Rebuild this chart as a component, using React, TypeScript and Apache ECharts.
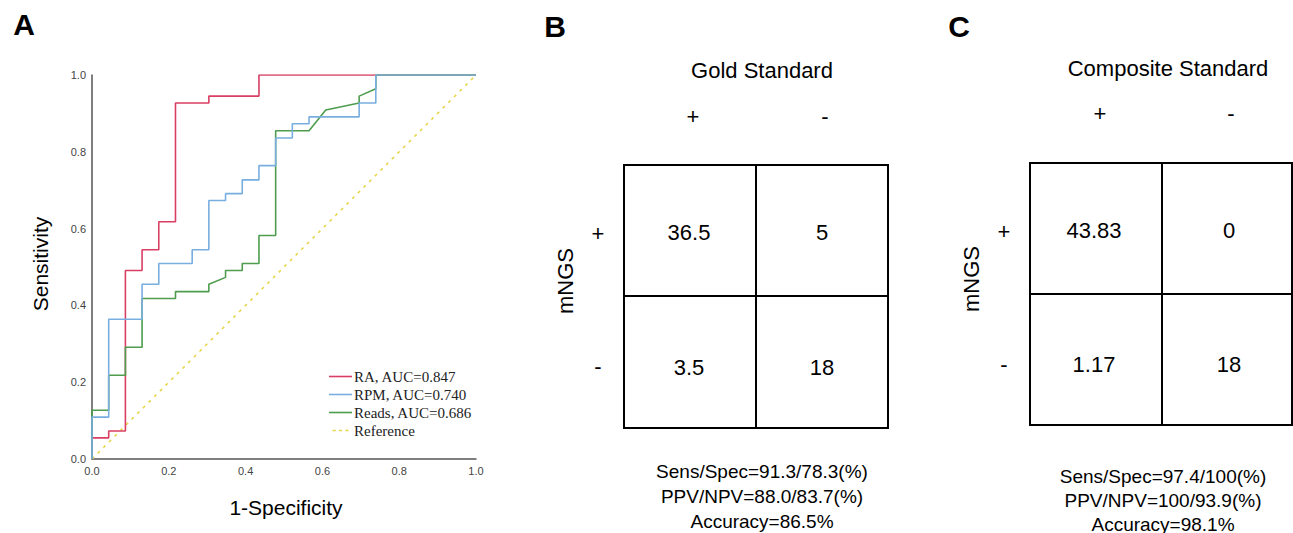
import React, { useEffect, useRef } from "react";
import * as echarts from "echarts";

// ROC curve vertices (1-Specificity, Sensitivity)
const raX = [0, 0, 0.0435, 0.0435, 0.087, 0.087, 0.1304, 0.1304, 0.1739, 0.1739, 0.2174, 0.2174, 0.3043, 0.3043, 0.4348, 0.4348, 1];
const raY = [0, 0.055, 0.055, 0.073, 0.073, 0.491, 0.491, 0.545, 0.545, 0.618, 0.618, 0.927, 0.927, 0.945, 0.945, 1, 1];

const rpmX = [0, 0, 0.0435, 0.0435, 0.1304, 0.1304, 0.1739, 0.1739, 0.2609, 0.2609, 0.3043, 0.3043, 0.3478, 0.3478, 0.3913, 0.3913, 0.4348, 0.4348, 0.4783, 0.4783, 0.5217, 0.5217, 0.5652, 0.5652, 0.6957, 0.6957, 0.7391, 0.7391, 1];
const rpmY = [0, 0.109, 0.109, 0.364, 0.364, 0.455, 0.455, 0.509, 0.509, 0.545, 0.545, 0.673, 0.673, 0.691, 0.691, 0.727, 0.727, 0.764, 0.764, 0.836, 0.836, 0.873, 0.873, 0.891, 0.891, 0.927, 0.927, 1, 1];

const readsX = [0, 0, 0.0435, 0.0435, 0.087, 0.087, 0.1304, 0.1304, 0.2174, 0.2174, 0.3043, 0.3043, 0.3478, 0.3478, 0.3913, 0.3913, 0.4348, 0.4348, 0.4783, 0.4783, 0.5652, 0.6087, 0.6957, 0.6957, 0.7391, 0.7391, 1];
const readsY = [0, 0.127, 0.127, 0.218, 0.218, 0.291, 0.291, 0.418, 0.418, 0.436, 0.436, 0.455, 0.473, 0.491, 0.491, 0.509, 0.509, 0.582, 0.582, 0.855, 0.855, 0.909, 0.927, 0.945, 0.964, 1, 1];

const refX = [0, 1];
const refY = [0, 1];

const seriesNames = ["RA, AUC=0.847", "RPM, AUC=0.740", "Reads, AUC=0.686", "Reference"];
const axisTicks = [0, 0.2, 0.4, 0.6, 0.8, 1.0];

// Confusion matrices
const goldTitle = "Gold Standard";
const goldCells = ["36.5", "5", "3.5", "18"];
const goldStats = ["Sens/Spec=91.3/78.3(%)", "PPV/NPV=88.0/83.7(%)", "Accuracy=86.5%"];

const compTitle = "Composite Standard";
const compCells = ["43.83", "0", "1.17", "18"];
const compStats = ["Sens/Spec=97.4/100(%)", "PPV/NPV=100/93.9(%)", "Accuracy=98.1%"];

const zip = (xs: number[], ys: number[]) => xs.map((x, i) => [x, ys[i]]);

const SANS = "Liberation Sans, Arial, sans-serif";
const SERIF = "Liberation Serif, Times New Roman, serif";

function txt(x: number, y: number, text: string, size: number, extra: any = {}) {
  return {
    type: "text",
    x,
    y,
    rotation: extra.rotation || 0,
    style: {
      text,
      fontSize: size,
      fontFamily: SANS,
      fontWeight: extra.bold ? "bold" : "normal",
      fill: "#000",
      align: "center",
      verticalAlign: "middle",
    },
  };
}

function matrix(p: {
  left: number; top: number; right: number; bottom: number; midX: number; midY: number;
  title: string; titleX: number; titleY: number; plusX: number; minusX: number; headY: number;
  rowLabelX: number; plusY: number; minusY: number; mngsX: number; mngsY: number;
  cells: string[]; cellX: number[]; cellY: number[]; stats: string[]; statsX: number; statsY: number[];
}) {
  const els: any[] = [];
  els.push({
    type: "rect",
    shape: { x: p.left, y: p.top, width: p.right - p.left, height: p.bottom - p.top },
    style: { fill: "none", stroke: "#000", lineWidth: 2 },
  });
  els.push({ type: "line", shape: { x1: p.midX, y1: p.top, x2: p.midX, y2: p.bottom }, style: { stroke: "#000", lineWidth: 2 } });
  els.push({ type: "line", shape: { x1: p.left, y1: p.midY, x2: p.right, y2: p.midY }, style: { stroke: "#000", lineWidth: 2 } });
  els.push(txt(p.titleX, p.titleY, p.title, 22));
  els.push(txt(p.plusX, p.headY, "+", 22));
  els.push(txt(p.minusX, p.headY, "-", 22));
  els.push(txt(p.rowLabelX, p.plusY, "+", 22));
  els.push(txt(p.rowLabelX, p.minusY, "-", 22));
  els.push(txt(p.mngsX, p.mngsY, "mNGS", 22, { rotation: Math.PI / 2 }));
  p.cells.forEach((c, i) => {
    els.push(txt(p.cellX[i % 2], p.cellY[Math.floor(i / 2)], c, 22));
  });
  p.stats.forEach((s, i) => els.push(txt(p.statsX, p.statsY[i], s, 19)));
  return els;
}

export default function App() {
  const ref = useRef<HTMLDivElement>(null);
  useEffect(() => {
    if (!ref.current) return;
    const chart = echarts.init(ref.current, undefined, { renderer: "svg" });
    const lineSeries = (name: string, data: number[][], color: string, z: number, dashed = false) => ({
      name,
      type: "line",
      data,
      z,
      showSymbol: false,
      symbol: "none",
      silent: true,
      lineStyle: { color, width: 1.6, type: dashed ? [3, 5] : "solid" },
      itemStyle: { color },
    });
    const graphics: any[] = [
      txt(24, 24, "A", 30, { bold: true }),
      txt(555, 26, "B", 30, { bold: true }),
      txt(959, 26, "C", 30, { bold: true }),
      txt(40, 264, "Sensitivity", 21, { rotation: Math.PI / 2 }),
      txt(286, 507, "1-Specificity", 21),
      ...matrix({
        left: 624, top: 165, right: 888, bottom: 428, midX: 756, midY: 296,
        title: goldTitle, titleX: 762, titleY: 70, plusX: 693, minusX: 825, headY: 116,
        rowLabelX: 598, plusY: 233, minusY: 366, mngsX: 565, mngsY: 281,
        cells: goldCells, cellX: [689, 822], cellY: [232, 367],
        stats: goldStats, statsX: 762, statsY: [471, 496, 521],
      }),
      ...matrix({
        left: 1030, top: 163, right: 1292, bottom: 425, midX: 1162, midY: 294,
        title: compTitle, titleX: 1168, titleY: 68, plusX: 1100, minusX: 1231, headY: 113,
        rowLabelX: 1004, plusY: 231, minusY: 364, mngsX: 971, mngsY: 279,
        cells: compCells, cellX: [1094, 1229], cellY: [230, 364],
        stats: compStats, statsX: 1163, statsY: [476, 500, 524],
      }),
    ];
    const dashIcon = "path://M0,0h4v2h-4zM8,0h4v2h-4zM16,0h4v2h-4z";
    chart.setOption({
      animation: false,
      backgroundColor: "#fff",
      grid: { left: 92, top: 75, width: 384, height: 384, containLabel: false },
      xAxis: {
        type: "value",
        min: 0,
        max: 1,
        interval: 0.2,
        axisLine: { show: true, onZero: false, lineStyle: { color: "#555", width: 1.5 } },
        axisTick: { show: false },
        splitLine: { show: false },
        axisLabel: {
          fontSize: 11,
          fontFamily: SANS,
          color: "#444",
          margin: 6,
          formatter: (v: number) => (axisTicks.includes(Number(v.toFixed(1))) ? v.toFixed(1) : ""),
        },
      },
      yAxis: {
        type: "value",
        min: 0,
        max: 1,
        interval: 0.2,
        axisLine: { show: true, onZero: false, lineStyle: { color: "#555", width: 1.5 } },
        axisTick: { show: false },
        splitLine: { show: false },
        axisLabel: {
          fontSize: 11,
          fontFamily: SANS,
          color: "#444",
          margin: 6,
          formatter: (v: number) => v.toFixed(1),
        },
      },
      legend: {
        data: [
          { name: seriesNames[0], icon: "rect" },
          { name: seriesNames[1], icon: "rect" },
          { name: seriesNames[2], icon: "rect" },
          { name: seriesNames[3], icon: dashIcon },
        ],
        orient: "vertical",
        left: 329,
        top: 369,
        padding: 0,
        itemWidth: 23,
        itemHeight: 1.6,
        itemGap: 3,
        selectedMode: false,
        textStyle: { fontFamily: SERIF, fontSize: 15, color: "#222", padding: [0, 0, 0, -3] },
      },
      series: [
        lineSeries(seriesNames[3], zip(refX, refY), "#e6d64c", 1, true),
        lineSeries(seriesNames[0], zip(raX, raY), "#d93f63", 2),
        lineSeries(seriesNames[2], zip(readsX, readsY), "#4e9c4e", 3),
        lineSeries(seriesNames[1], zip(rpmX, rpmY), "#79aee0", 4),
      ],
      graphic: graphics,
    });
    return () => chart.dispose();
  }, []);
  return (
    <div
      ref={ref}
      style={{ position: "fixed", left: 0, top: 0, width: 1293, height: 533, background: "#fff" }}
    />
  );
}
